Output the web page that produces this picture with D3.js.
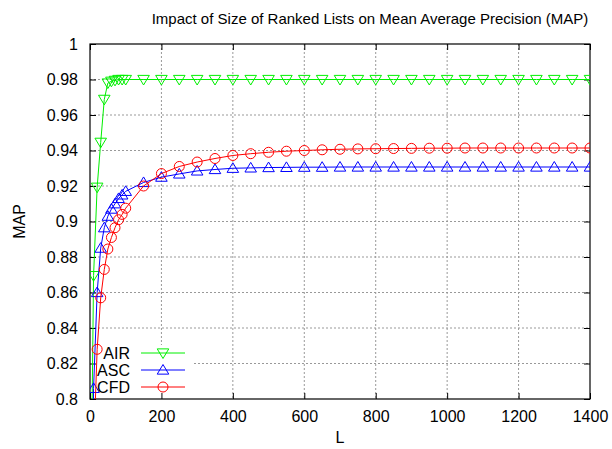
<!DOCTYPE html>
<html>
<head>
<meta charset="utf-8">
<script src="https://cdn.jsdelivr.net/npm/d3@7"></script>
<style>
  body { margin: 0; background: #fff; }
  text { font-family: "Liberation Sans", Arial, sans-serif; fill: #000; }
</style>
</head>
<body>
<script>
// List sizes (x values)
var sizes = [1, 10, 20, 30, 40, 50, 60, 70, 80, 90, 100,
  150, 200, 250, 300, 350, 400, 450, 500, 550, 600, 650, 700, 750, 800,
  850, 900, 950, 1000, 1050, 1100, 1150, 1200, 1250, 1300, 1350, 1400];

// MAP values
var air = [0.71, 0.8695, 0.9193, 0.9446, 0.9688, 0.978, 0.979, 0.9795, 0.98, 0.98, 0.98,
  0.98, 0.98, 0.98, 0.98, 0.98, 0.98, 0.98, 0.98, 0.98, 0.98, 0.98, 0.98, 0.98, 0.98,
  0.98, 0.98, 0.98, 0.98, 0.98, 0.98, 0.98, 0.98, 0.98, 0.98, 0.98, 0.98];
var asc = [0.62, 0.806, 0.860, 0.885, 0.8965, 0.903, 0.907, 0.910, 0.913, 0.915, 0.917,
  0.922, 0.925, 0.9268, 0.9285, 0.9293, 0.930, 0.9302, 0.9304, 0.9305, 0.9306, 0.9306, 0.9307, 0.9307, 0.9307,
  0.9307, 0.9307, 0.9307, 0.9307, 0.9307, 0.9307, 0.9307, 0.9307, 0.9307, 0.9307, 0.9307, 0.9307];
var cfd = [0.55, 0.77, 0.828, 0.857, 0.873, 0.8845, 0.891, 0.8965, 0.901, 0.904, 0.9075,
  0.920, 0.927, 0.931, 0.9335, 0.9355, 0.9372, 0.9382, 0.939, 0.9396, 0.940, 0.9404, 0.9407, 0.9409, 0.941,
  0.9411, 0.9412, 0.9413, 0.9413, 0.9414, 0.9414, 0.9414, 0.9414, 0.9414, 0.9414, 0.9414, 0.9414];

var xTicks = [0, 200, 400, 600, 800, 1000, 1200, 1400];
var yTicks = [0.8, 0.82, 0.84, 0.86, 0.88, 0.9, 0.92, 0.94, 0.96, 0.98, 1];

var series = [
  { name: "AIR", values: air, color: "#00f000", marker: "down" },
  { name: "ASC", values: asc, color: "#0000ff", marker: "up" },
  { name: "CFD", values: cfd, color: "#ff0000", marker: "circle" }
];

var margin = { top: 44, right: 22, bottom: 50, left: 90 },
    width = 612 - margin.left - margin.right,
    height = 449 - margin.top - margin.bottom;

var svg = d3.select("body").append("svg")
    .attr("width", 612)
    .attr("height", 449);

var g = svg.append("g")
    .attr("transform", "translate(" + margin.left + "," + margin.top + ")");

var xScale = d3.scaleLinear().domain([0, 1400]).range([0, width]);
var yScale = d3.scaleLinear().domain([0.8, 1]).range([height, 0]);

// dotted grid
g.append("g").selectAll("line").data(xTicks.slice(1, -1)).enter().append("line")
    .attr("x1", d => xScale(d)).attr("x2", d => xScale(d))
    .attr("y1", 0).attr("y2", height)
    .attr("stroke", "#999").attr("stroke-dasharray", "2,2");
g.append("g").selectAll("line").data(yTicks.slice(1, -1)).enter().append("line")
    .attr("x1", 0).attr("x2", width)
    .attr("y1", d => yScale(d)).attr("y2", d => yScale(d))
    .attr("stroke", "#999").attr("stroke-dasharray", "2,2");

// key box hides the grid under it
g.append("rect")
    .attr("x", 0).attr("y", height - 54)
    .attr("width", 102).attr("height", 54)
    .attr("fill", "#fff");

// axes with inward ticks, mirrored
var tick = 6;
var xAxis = g.append("g").attr("transform", "translate(0," + height + ")")
    .call(d3.axisBottom(xScale).tickValues(xTicks).tickFormat(d3.format("d")).tickSizeInner(-tick).tickSizeOuter(0).tickPadding(12));
var xTop = g.append("g")
    .call(d3.axisTop(xScale).tickValues(xTicks).tickFormat("").tickSizeInner(-tick).tickSizeOuter(0));
var yAxis = g.append("g")
    .call(d3.axisLeft(yScale).tickValues(yTicks).tickFormat(d => d3.format("")(+d.toFixed(2))).tickSizeInner(-tick).tickSizeOuter(0).tickPadding(12));
var yRight = g.append("g").attr("transform", "translate(" + width + ",0)")
    .call(d3.axisRight(yScale).tickValues(yTicks).tickFormat("").tickSizeInner(-tick).tickSizeOuter(0));
[xAxis, xTop, yAxis, yRight].forEach(function (a) {
  a.select(".domain").remove();
  a.selectAll("line").attr("stroke", "#000");
  a.selectAll("text").attr("font-size", "16px").attr("font-family", "Liberation Sans, Arial, sans-serif");
});

g.append("rect")
    .attr("width", width).attr("height", height)
    .attr("fill", "none").attr("stroke", "#000").attr("stroke-width", 1.2);

// clip for the series
svg.append("defs").append("clipPath").attr("id", "clip")
  .append("rect").attr("width", width).attr("height", height);

var plot = g.append("g").attr("clip-path", "url(#clip)");

var line = d3.line()
    .x((d, i) => xScale(sizes[i]))
    .y(d => yScale(d));

function drawMarker(sel, type, color) {
  if (type === "circle") {
    sel.append("circle").attr("r", 5).attr("fill", "none")
      .attr("stroke", color).attr("stroke-width", 1);
  } else {
    var s = 5.5;
    var pts = type === "up"
      ? [[0, -s], [s * 1.05, s * 0.75], [-s * 1.05, s * 0.75]]
      : [[0, s], [s * 1.05, -s * 0.75], [-s * 1.05, -s * 0.75]];
    sel.append("path").attr("d", "M" + pts.join("L") + "Z")
      .attr("fill", "none").attr("stroke", color).attr("stroke-width", 1);
  }
}

series.forEach(function (s) {
  plot.append("path")
      .datum(s.values)
      .attr("d", line)
      .attr("fill", "none")
      .attr("stroke", s.color)
      .attr("stroke-width", 1);
  plot.append("g").selectAll("g").data(s.values).enter().append("g")
      .attr("transform", (d, i) => "translate(" + xScale(sizes[i]) + "," + yScale(d) + ")")
      .each(function () { drawMarker(d3.select(this), s.marker, s.color); });
});

// key
var key = g.append("g");
series.forEach(function (s, i) {
  var ky = height - 46 + i * 17;
  key.append("text").attr("x", 40).attr("y", ky + 6)
    .attr("text-anchor", "end").attr("font-size", "16px").text(s.name);
  key.append("line").attr("x1", 51).attr("x2", 95).attr("y1", ky).attr("y2", ky)
    .attr("stroke", s.color).attr("stroke-width", 1);
  var m = key.append("g").attr("transform", "translate(73," + ky + ")");
  drawMarker(m, s.marker, s.color);
});

// title and axis labels
svg.append("text")
    .attr("x", 370).attr("y", 24)
    .attr("text-anchor", "middle").attr("font-size", "15px")
    .text("Impact of Size of Ranked Lists on Mean Average Precision (MAP)");
svg.append("text")
    .attr("x", margin.left + width / 2).attr("y", 443)
    .attr("text-anchor", "middle").attr("font-size", "16px")
    .text("L");
svg.append("text")
    .attr("transform", "translate(25," + (margin.top + height / 2) + ") rotate(-90)")
    .attr("text-anchor", "middle").attr("font-size", "16px")
    .text("MAP");
</script>
</body>
</html>
